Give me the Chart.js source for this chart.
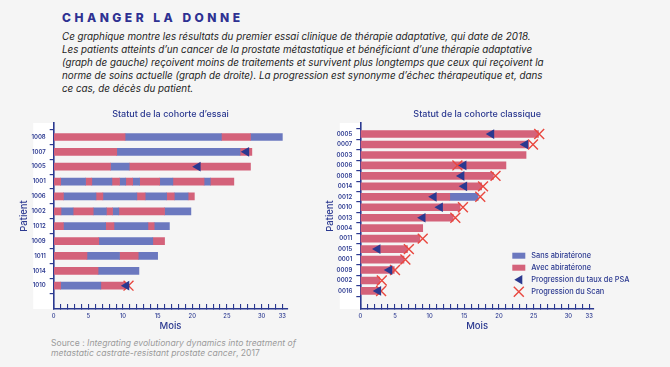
<!DOCTYPE html>
<html lang="fr">
<head>
<meta charset="utf-8">
<script src="https://cdn.jsdelivr.net/npm/chart.js@4/dist/chart.umd.min.js"></script>
<style>
    body {
        margin: 0;
        width: 670px;
        height: 367px;
        background: #f5f5f5;
        position: relative;
        overflow: hidden;
        font-family: Inter, 'Open Sans', sans-serif;
    }
    h1 {
        position: absolute;
        left: 62px;
        top: 10px;
        margin: 0;
        font-size: 12px;
        line-height: 16px;
        letter-spacing: 3.5px;
        font-weight: 800;
        color: #2e3192;
    }
    .intro {
        position: absolute;
        left: 62px;
        top: 30px;
        margin: 0;
        font-size: 9.8px;
        line-height: 13px;
        font-style: italic;
        color: #1e1e1e;
        white-space: nowrap;
    }
    .source {
        position: absolute;
        left: 51px;
        top: 338px;
        margin: 0;
        font-size: 8.6px;
        line-height: 10px;
        color: #9b9b9b;
        white-space: nowrap;
    }
    #trialChart { position: absolute; left: 0; top: 105px; }
    #classicChart { position: absolute; left: 310px; top: 105px; }
</style>
</head>
<body>
<h1>CHANGER LA DONNE</h1>
<p class="intro">Ce graphique montre les résultats du premier essai clinique de thérapie adaptative, qui date de 2018.<br>
Les patients atteints d’un cancer de la prostate métastatique et bénéficiant d’une thérapie adaptative<br>
(graph de gauche) reçoivent moins de traitements et survivent plus longtemps que ceux qui reçoivent la<br>
norme de soins actuelle (graph de droite). La progression est synonyme d’échec thérapeutique et, dans<br>
ce cas, de décès du patient.</p>
<canvas id="trialChart" width="310" height="230"></canvas>
<canvas id="classicChart" width="360" height="230"></canvas>
<p class="source">Source : <i>Integrating evolutionary dynamics into treatment of<br>
metastatic castrate-resistant prostate cancer</i>, 2017</p>

<script>
// Graduations de l'axe des mois
const xTicks = [0, 5, 10, 15, 20, 25, 30, 33];

// Cohorte d'essai : mois où le traitement change (avec / sans abiratérone, en commençant par "avec")
const trialPatients = ['1008', '1007', '1005', '1001', '1006', '1002', '1012', '1009', '1011', '1014', '1010'];
const trialSwitches = [
    [10.3, 24.2, 28.4, 33],
    [9.1, 26.9, 28.6],
    [8.2, 10.9, 28.4],
    [1.0, 4.6, 5.5, 8.4, 9.5, 10.4, 11.4, 12.4, 15.3, 17.2, 21.7, 22.6, 26.0],
    [1.4, 6.1, 7.1, 12.0, 13.2, 16.3, 17.4, 19.4, 20.3],
    [1.05, 2.8, 5.7, 7.6, 8.5, 9.4, 16.0, 19.8],
    [1.4, 7.5, 8.7, 13.6, 14.5, 16.7],
    [6.5, 14.3, 16.0],
    [4.8, 9.5, 12.2, 15.0],
    [6.4, 12.3],
    [1.0, 6.8, 10.4]
];
const trialPsa = [null, 27.8, 20.8, null, null, null, null, null, null, null, 10.5];
const trialScan = [null, null, null, null, null, null, null, null, null, null, 10.8];

// Cohorte classique
const classicPatients = ['0005', '0007', '0003', '0006', '0008', '0014', '0012', '0010', '0013', '0004', '0011', '0015', '0001', '0009', '0002', '0016'];
const classicSwitches = [
    [25.7], [24.3], [23.9], [21.0], [19.2], [17.5], [12.9, 17.0], [14.4],
    [13.4], [9.0], [8.6], [6.8], [6.3], [4.9], [2.8], [2.7]
];
const classicPsa = [18.9, 23.8, null, 14.9, 14.6, 15.0, 10.6, 11.5, 9.0, null, null, 2.5, null, 4.2, null, 2.6];
const classicScan = [25.8, 24.9, null, 14.0, 19.5, 17.7, 17.3, 14.8, 13.7, null, 9.0, 7.0, 6.5, 5.0, 3.1, 3.0];

const legendLabels = ['Sans abiratérone', 'Avec abiratérone', 'Progression du taux de PSA', 'Progression du Scan'];

const NAVY = '#2b3990';
const RED = '#d4627a';
const BLUE = '#6b78bf';
const CROSS = '#e9473f';
const FONT = 'Inter, "Open Sans", sans-serif';

function buildDatasets(patients, switches, psa, scan) {
    const datasets = [];
    const maxSeg = Math.max(...switches.map(s => s.length));
    for (let k = 0; k < maxSeg; k++) {
        const data = [];
        switches.forEach((s, i) => {
            if (s[k] !== undefined) {
                data.push({ x: [k ? s[k - 1] : 0, s[k]], y: i });
            }
        });
        datasets.push({
            type: 'bar',
            data: data,
            backgroundColor: k % 2 === 0 ? RED : BLUE,
            barThickness: 7,
            grouped: false,
            borderWidth: 0
        });
    }
    // Marqueurs : triangles PSA et croix Scan, dessinés au-dessus des barres
    datasets.push({
        type: 'line',
        order: -2,
        data: psa.map((v, i) => v === null ? null : { x: v, y: i }).filter(Boolean),
        showLine: false,
        pointStyle: 'triangle',
        pointRotation: -90,
        pointRadius: 5.6,
        pointBackgroundColor: NAVY,
        pointBorderColor: NAVY,
        pointBorderWidth: 0
    });
    datasets.push({
        type: 'line',
        order: -1,
        data: scan.map((v, i) => v === null ? null : { x: v, y: i }).filter(Boolean),
        showLine: false,
        pointStyle: 'crossRot',
        pointRadius: 7,
        pointBorderColor: CROSS,
        pointBorderWidth: 1.4
    });
    return datasets;
}

// Bande blanche derrière les étiquettes de patients
const labelBand = {
    id: 'labelBand',
    beforeDraw(chart) {
        const { ctx, chartArea } = chart;
        ctx.save();
        ctx.fillStyle = '#ffffff';
        ctx.fillRect(chartArea.left - 20.5, chartArea.top, 20.5, chartArea.bottom - chartArea.top);
        ctx.restore();
    }
};

// Légende dessinée dans la zone du graphique de droite
const innerLegend = {
    id: 'innerLegend',
    afterDraw(chart) {
        const { ctx, chartArea } = chart;
        const x0 = chartArea.left + 152;
        const y0 = chartArea.bottom - 53.3;
        ctx.save();
        ctx.font = '500 7.4px ' + FONT;
        ctx.textBaseline = 'middle';
        legendLabels.forEach((label, j) => {
            const y = y0 + j * 12;
            if (j < 2) {
                ctx.fillStyle = j === 0 ? BLUE : RED;
                ctx.fillRect(x0, y - 3, 13, 6);
            } else if (j === 2) {
                ctx.fillStyle = NAVY;
                ctx.beginPath();
                ctx.moveTo(x0 + 2, y);
                ctx.lineTo(x0 + 10, y - 4.8);
                ctx.lineTo(x0 + 10, y + 4.8);
                ctx.closePath();
                ctx.fill();
            } else {
                ctx.strokeStyle = CROSS;
                ctx.lineWidth = 1.4;
                ctx.beginPath();
                ctx.moveTo(x0 + 1.5, y - 5);
                ctx.lineTo(x0 + 11.5, y + 5);
                ctx.moveTo(x0 + 11.5, y - 5);
                ctx.lineTo(x0 + 1.5, y + 5);
                ctx.stroke();
            }
            ctx.fillStyle = NAVY;
            ctx.fillText(label, x0 + 19, y);
        });
        ctx.restore();
    }
};

function createChart(canvasId, title, patients, switches, psa, scan, opts) {
    const ctx = document.getElementById(canvasId).getContext('2d');
    return new Chart(ctx, {
        type: 'bar',
        data: {
            datasets: buildDatasets(patients, switches, psa, scan)
        },
        options: {
            responsive: false,
            animation: false,
            indexAxis: 'y',
            layout: {
                padding: { left: 0, right: opts.padRight, top: 0, bottom: 0 }
            },
            plugins: {
                legend: { display: false },
                tooltip: { enabled: false },
                title: {
                    display: true,
                    text: title,
                    fullSize: false,
                    color: NAVY,
                    font: { family: FONT, size: 9, weight: '500', lineHeight: 1.2 },
                    padding: { top: 4, bottom: 3.2 }
                }
            },
            scales: {
                x: {
                    type: 'linear',
                    position: 'bottom',
                    min: 0,
                    max: 33.7,
                    afterBuildTicks: scale => {
                        scale.ticks = Array.from({ length: 34 }, (_, m) => ({ value: m }));
                    },
                    afterFit: scale => { scale.height = 26; },
                    ticks: {
                        autoSkip: false,
                        maxRotation: 0,
                        padding: 9,
                        color: NAVY,
                        font: { family: FONT, size: 5.8, weight: '500' },
                        callback: v => xTicks.includes(v) ? String(v) : ''
                    },
                    grid: {
                        drawOnChartArea: false,
                        drawTicks: true,
                        tickLength: -5,
                        color: NAVY,
                        lineWidth: 1.1
                    },
                    border: { color: NAVY, width: 1.6 },
                    title: {
                        display: true,
                        text: 'Mois',
                        color: NAVY,
                        font: { family: FONT, size: 9.5, weight: '500', lineHeight: 1.2 },
                        padding: { top: 0, bottom: 3.6 }
                    }
                },
                y: {
                    type: 'linear',
                    reverse: true,
                    min: opts.yMin,
                    max: opts.yMax,
                    afterBuildTicks: scale => {
                        scale.ticks = patients.map((p, i) => ({ value: i }));
                    },
                    afterFit: scale => { scale.width = opts.axisLeft; },
                    ticks: {
                        autoSkip: false,
                        padding: 4,
                        color: NAVY,
                        font: { family: FONT, size: 6, weight: '600' },
                        callback: v => patients[v]
                    },
                    grid: {
                        drawOnChartArea: false,
                        drawTicks: true,
                        tickLength: 4,
                        color: NAVY,
                        lineWidth: 1.2
                    },
                    border: { color: NAVY, width: 1.6 },
                    title: {
                        display: true,
                        text: 'Patient',
                        color: NAVY,
                        font: { family: FONT, size: 9.5, weight: '500', lineHeight: 1.2 },
                        padding: { top: opts.titlePad, bottom: 0 }
                    }
                }
            }
        },
        plugins: opts.legend ? [labelBand, innerLegend] : [labelBand]
    });
}

createChart('trialChart', 'Statut de la cohorte d’essai', trialPatients, trialSwitches, trialPsa, trialScan, {
    padRight: 22.8, axisLeft: 53.7, yMin: -0.37, yMax: 11, titlePad: 18.8, legend: false
});
createChart('classicChart', 'Statut de la cohorte classique', classicPatients, classicSwitches, classicPsa, classicScan, {
    padRight: 76, axisLeft: 50.3, yMin: -0.5, yMax: 16.17, titlePad: 14.3, legend: true
});
</script>
</body>
</html>
